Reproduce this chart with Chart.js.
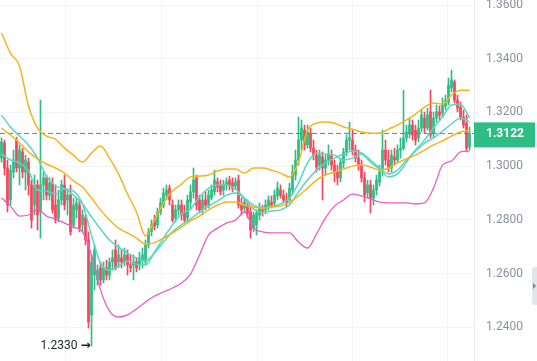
<!DOCTYPE html>
<html lang="en">
<head>
<meta charset="UTF-8">
<title>Price chart</title>
<script src="https://cdn.jsdelivr.net/npm/chart.js"></script>
<style>
  html, body { margin: 0; padding: 0; background: #fff; }
  #wrap { position: relative; width: 537px; height: 361px; }
  #tab { position: absolute; right: 0; top: 267px; width: 5px; height: 38px; background: #e2e5ea; border-radius: 3px 0 0 3px; }
  #tab:after { content: ''; position: absolute; left: 1px; top: 16px; border-left: 3px solid #7b8290; border-top: 3px solid transparent; border-bottom: 3px solid transparent; }
</style>
</head>
<body>
<div id="wrap">
  <canvas id="priceChart"></canvas>
  <div id="tab"></div>
</div>
<script>
// candles (one per bar, oldest first)
const opens = [
  1.3030,1.3086,1.2993,1.2874,1.2978,1.3097,1.2993,1.3053,1.2978,1.3015,
  1.2930,1.2855,1.2930,1.2829,1.2930,1.2956,1.2892,1.2937,1.2855,1.2807,
  1.2874,1.2930,1.2874,1.2892,1.2781,1.2837,1.2855,1.2781,1.2807,1.2725,
  1.2446,1.2594,1.2576,1.2621,1.2576,1.2621,1.2594,1.2643,1.2688,1.2643,
  1.2658,1.2643,1.2669,1.2632,1.2632,1.2643,1.2632,1.2650,1.2643,1.2706,
  1.2755,1.2799,1.2781,1.2829,1.2855,1.2892,1.2918,1.2855,1.2807,1.2837,
  1.2855,1.2829,1.2807,1.2866,1.2904,1.2956,1.2874,1.2837,1.2874,1.2855,
  1.2881,1.2904,1.2941,1.2930,1.2911,1.2930,1.2948,1.2937,1.2926,1.2948,
  1.2855,1.2844,1.2855,1.2829,1.2769,1.2781,1.2818,1.2837,1.2837,1.2851,
  1.2866,1.2863,1.2889,1.2911,1.2892,1.2874,1.2874,1.2911,1.2967,1.3023,
  1.3097,1.3134,1.3079,1.3123,1.3067,1.3041,1.3004,1.3034,1.2993,1.3023,
  1.3038,1.3004,1.2978,1.2956,1.3012,1.3053,1.3097,1.3097,1.3060,1.3030,
  1.3004,1.2956,1.2900,1.2930,1.2881,1.2911,1.2941,1.2978,1.3060,1.3023,
  1.2993,1.3034,1.3023,1.3060,1.3067,1.3105,1.3123,1.3153,1.3134,1.3105,
  1.3142,1.3179,1.3142,1.3202,1.3123,1.3179,1.3202,1.3198,1.3224,1.3239,
  1.3291,1.3313,1.3246,1.3220,1.3183,1.3160,1.3071
];
const highs = [
  1.3105,1.3097,1.3023,1.3004,1.3060,1.3108,1.3079,1.3067,1.3041,1.3030,
  1.2948,1.2967,1.2948,1.3246,1.2978,1.2967,1.2956,1.2956,1.2930,1.2911,
  1.2948,1.2967,1.2911,1.2930,1.2881,1.2881,1.2874,1.2837,1.2818,1.2755,
  1.2669,1.2706,1.2632,1.2643,1.2643,1.2650,1.2658,1.2688,1.2725,1.2706,
  1.2688,1.2695,1.2688,1.2669,1.2669,1.2658,1.2680,1.2695,1.2725,1.2769,
  1.2799,1.2818,1.2844,1.2881,1.2918,1.2930,1.2930,1.2874,1.2855,1.2874,
  1.2874,1.2855,1.2892,1.2930,1.2993,1.2967,1.2892,1.2892,1.2904,1.2911,
  1.2930,1.2985,1.2956,1.2948,1.2948,1.2956,1.2963,1.2956,1.2956,1.2967,
  1.2881,1.2881,1.2874,1.2855,1.2829,1.2837,1.2863,1.2855,1.2874,1.2889,
  1.2889,1.2911,1.2941,1.2930,1.2911,1.2900,1.2937,1.3004,1.3060,1.3183,
  1.3172,1.3153,1.3153,1.3142,1.3097,1.3060,1.3060,1.3053,1.3041,1.3079,
  1.3060,1.3023,1.3004,1.3030,1.3067,1.3116,1.3164,1.3134,1.3079,1.3060,
  1.3023,1.2978,1.2948,1.2948,1.2930,1.2967,1.3004,1.3134,1.3097,1.3060,
  1.3060,1.3067,1.3079,1.3105,1.3283,1.3153,1.3179,1.3172,1.3153,1.3172,
  1.3209,1.3202,1.3216,1.3283,1.3202,1.3228,1.3224,1.3254,1.3265,1.3328,
  1.3358,1.3321,1.3265,1.3239,1.3209,1.3190,1.3146
];
const lows = [
  1.3015,1.2967,1.2829,1.2855,1.2956,1.2978,1.2930,1.2956,1.2911,1.2892,
  1.2769,1.2818,1.2762,1.2732,1.2874,1.2874,1.2874,1.2825,1.2788,1.2792,
  1.2855,1.2837,1.2818,1.2743,1.2769,1.2807,1.2755,1.2755,1.2706,1.2397,
  1.2330,1.2539,1.2557,1.2557,1.2565,1.2576,1.2576,1.2613,1.2613,1.2621,
  1.2621,1.2628,1.2594,1.2606,1.2576,1.2606,1.2613,1.2621,1.2632,1.2695,
  1.2740,1.2762,1.2769,1.2818,1.2844,1.2874,1.2855,1.2792,1.2792,1.2818,
  1.2799,1.2792,1.2792,1.2837,1.2881,1.2837,1.2825,1.2818,1.2837,1.2844,
  1.2874,1.2892,1.2904,1.2892,1.2892,1.2911,1.2911,1.2904,1.2911,1.2844,
  1.2818,1.2829,1.2807,1.2732,1.2755,1.2743,1.2799,1.2814,1.2822,1.2837,
  1.2844,1.2848,1.2874,1.2881,1.2863,1.2848,1.2863,1.2900,1.2948,1.3004,
  1.3060,1.3060,1.3067,1.3053,1.3023,1.2978,1.2985,1.2874,1.2967,1.3004,
  1.2985,1.2941,1.2930,1.2941,1.2993,1.3038,1.3060,1.3041,1.3015,1.2985,
  1.2941,1.2866,1.2881,1.2825,1.2855,1.2892,1.2926,1.2963,1.3004,1.2978,
  1.2978,1.3004,1.3012,1.3030,1.3060,1.3090,1.3105,1.3097,1.3079,1.3090,
  1.3127,1.3123,1.3134,1.3105,1.3108,1.3164,1.3172,1.3183,1.3209,1.3228,
  1.3276,1.3235,1.3202,1.3172,1.3142,1.3053,1.3060
];
const closes = [
  1.3090,1.2993,1.2855,1.2985,1.3023,1.2993,1.3060,1.2978,1.3023,1.2930,
  1.2799,1.2930,1.2818,1.2930,1.2956,1.2892,1.2937,1.2837,1.2799,1.2874,
  1.2930,1.2855,1.2892,1.2755,1.2855,1.2863,1.2769,1.2818,1.2725,1.2419,
  1.2643,1.2688,1.2613,1.2576,1.2621,1.2594,1.2643,1.2658,1.2621,1.2669,
  1.2643,1.2669,1.2632,1.2621,1.2643,1.2621,1.2658,1.2669,1.2706,1.2755,
  1.2781,1.2777,1.2829,1.2863,1.2900,1.2911,1.2874,1.2799,1.2837,1.2855,
  1.2818,1.2799,1.2874,1.2904,1.2948,1.2855,1.2837,1.2874,1.2855,1.2892,
  1.2911,1.2948,1.2922,1.2904,1.2930,1.2941,1.2926,1.2918,1.2941,1.2855,
  1.2837,1.2866,1.2825,1.2762,1.2818,1.2825,1.2844,1.2829,1.2855,1.2874,
  1.2855,1.2892,1.2918,1.2892,1.2874,1.2866,1.2918,1.2978,1.3023,1.3097,
  1.3142,1.3079,1.3127,1.3067,1.3041,1.2997,1.3041,1.2993,1.3023,1.3041,
  1.3004,1.2978,1.2956,1.3015,1.3053,1.3097,1.3105,1.3060,1.3030,1.3004,
  1.2956,1.2892,1.2930,1.2881,1.2911,1.2948,1.2978,1.3060,1.3023,1.2993,
  1.3041,1.3023,1.3060,1.3067,1.3105,1.3127,1.3153,1.3116,1.3097,1.3142,
  1.3190,1.3142,1.3190,1.3116,1.3179,1.3202,1.3190,1.3228,1.3246,1.3302,
  1.3321,1.3246,1.3216,1.3183,1.3153,1.3067,1.3122
];

// indicator lines, sampled every third bar
const lineIdx = Array.from({ length: 53 }, (_, k) => k * 3);
const bandUpper = [
  1.3496,1.3421,1.3373,1.3224,1.3142,1.3112,1.3101,1.3067,1.3041,1.3015,
  1.3049,1.3075,1.3030,1.2971,1.2896,1.2829,1.2740,1.2799,1.2863,1.2907,
  1.2933,1.2960,1.2963,1.2967,1.2982,1.2989,1.2989,1.2974,1.2993,1.2993,
  1.2985,1.2974,1.2960,1.3015,1.3134,1.3160,1.3164,1.3160,1.3146,1.3138,
  1.3127,1.3123,1.3123,1.3138,1.3153,1.3172,1.3194,1.3220,1.3235,1.3231,
  1.3265,1.3283,1.3283
];
const bandMid = [
  1.3142,1.3116,1.3086,1.3053,1.3027,1.3008,1.2993,1.2974,1.2945,1.2922,
  1.2881,1.2837,1.2799,1.2769,1.2751,1.2732,1.2710,1.2714,1.2732,1.2751,
  1.2773,1.2796,1.2814,1.2837,1.2855,1.2866,1.2866,1.2855,1.2848,1.2844,
  1.2848,1.2851,1.2866,1.2889,1.2918,1.2948,1.2967,1.2978,1.2989,1.3000,
  1.3004,1.2997,1.2985,1.2993,1.3012,1.3027,1.3041,1.3060,1.3079,1.3094,
  1.3112,1.3127,1.3134
];
const bandLower = [
  1.2881,1.2851,1.2814,1.2818,1.2840,1.2814,1.2803,1.2788,1.2773,1.2755,
  1.2669,1.2539,1.2460,1.2438,1.2446,1.2468,1.2494,1.2516,1.2531,1.2546,
  1.2565,1.2598,1.2669,1.2743,1.2769,1.2788,1.2799,1.2829,1.2769,1.2755,
  1.2751,1.2751,1.2751,1.2717,1.2695,1.2747,1.2807,1.2851,1.2874,1.2896,
  1.2889,1.2878,1.2866,1.2863,1.2863,1.2863,1.2859,1.2863,1.2918,1.3004,
  1.3019,1.3053,1.3056
];
const maFast = [
  1.3045,1.3023,1.3012,1.2982,1.2911,1.2907,1.2896,1.2915,1.2907,1.2859,
  1.2743,1.2639,1.2613,1.2628,1.2647,1.2635,1.2632,1.2680,1.2732,1.2781,
  1.2822,1.2840,1.2885,1.2918,1.2930,1.2930,1.2915,1.2881,1.2855,1.2844,
  1.2848,1.2859,1.2881,1.2937,1.3012,1.3049,1.3045,1.3041,1.3023,1.3030,
  1.3045,1.3015,1.2989,1.2960,1.2971,1.3015,1.3060,1.3097,1.3142,1.3183,
  1.3228,1.3231,1.3179
];
const maSlow = [
  1.3190,1.3146,1.3112,1.3079,1.3030,1.2963,1.2926,1.2915,1.2892,1.2859,
  1.2811,1.2766,1.2725,1.2699,1.2676,1.2658,1.2647,1.2676,1.2717,1.2755,
  1.2781,1.2803,1.2829,1.2851,1.2870,1.2892,1.2900,1.2878,1.2840,1.2829,
  1.2833,1.2837,1.2855,1.2904,1.2948,1.2985,1.3012,1.3030,1.3045,1.3056,
  1.3049,1.3023,1.2993,1.2971,1.2985,1.3023,1.3056,1.3086,1.3105,1.3131,
  1.3157,1.3179,1.3164
];

const yTicks = [1.24, 1.26, 1.28, 1.30, 1.32, 1.34, 1.36];
const timeGrid = [21.2, 53.2, 85.2, 116.9, 148.8];
const lastPrice = 1.3122;
const lowMark = 1.2330;

const GREEN = '#2ebd85';
const RED = '#f6465d';

const candleColor = ctx => closes[ctx.dataIndex] >= opens[ctx.dataIndex] ? GREEN : RED;
const asPoints = arr => arr.map((v, k) => ({ x: lineIdx[k], y: v }));

function lineSet(data, color, width) {
    return {
        type: 'line',
        data: asPoints(data),
        borderColor: color,
        borderWidth: width,
        pointRadius: 0,
        cubicInterpolationMode: 'monotone',
        order: 0
    };
}

// last price tag + lowest price marker
const priceTags = {
    id: 'priceTags',
    afterDraw(chart) {
        const { ctx, chartArea, scales } = chart;
        const py = scales.y.getPixelForValue(lastPrice);
        ctx.save();
        ctx.fillStyle = GREEN;
        ctx.fillRect(chartArea.right, py - 11, 61, 25);
        ctx.fillStyle = '#ffffff';
        ctx.font = 'bold 12px Roboto';
        ctx.textBaseline = 'middle';
        ctx.textAlign = 'left';
        ctx.fillText(lastPrice.toFixed(4), chartArea.right + 12, py + 1);

        const li = lows.indexOf(Math.min(...lows));
        const lx = scales.x.getPixelForValue(li);
        const ly = scales.y.getPixelForValue(lows[li]);
        ctx.fillStyle = '#1e2329';
        ctx.font = '12px Roboto';
        ctx.textAlign = 'right';
        ctx.fillText(lowMark.toFixed(4), lx - 14, ly);
        ctx.font = 'bold 12px "DejaVu Sans"';
        ctx.fillText('\u2192', lx - 1, ly);
        ctx.restore();
    }
};

new Chart(document.getElementById('priceChart'), {
    data: {
        datasets: [
            lineSet(bandUpper, '#f7b41c', 1.5),
            lineSet(bandMid, '#f7b41c', 1.5),
            lineSet(bandLower, '#ec5dc6', 1.3),
            lineSet(maSlow, '#55d8c4', 1.5),
            lineSet(maFast, '#55d8c4', 1.5),
            {
                type: 'line',
                data: [{ x: -0.5, y: lastPrice }, { x: 157.5, y: lastPrice }],
                borderColor: '#26a17b',
                borderWidth: 1,
                borderDash: [5, 3],
                pointRadius: 0,
                order: 0
            },
            {
                type: 'bar',
                data: closes.map((c, i) => ({ x: i, y: [opens[i], c] })),
                backgroundColor: candleColor,
                barThickness: 2,
                minBarLength: 1,
                grouped: false,
                order: 1
            },
            {
                type: 'bar',
                data: highs.map((h, i) => ({ x: i, y: [lows[i], h] })),
                backgroundColor: candleColor,
                barThickness: 1,
                grouped: false,
                order: 2
            }
        ]
    },
    options: {
        responsive: true,
        maintainAspectRatio: false,
        animation: false,
        plugins: { legend: { display: false }, tooltip: { enabled: false } },
        layout: { padding: 0 },
        scales: {
            x: {
                type: 'linear',
                offset: false,
                min: -0.5,
                max: 157.5,
                afterBuildTicks: axis => { axis.ticks = timeGrid.map(v => ({ value: v })); },
                ticks: { display: false },
                grid: { color: '#f3f4f6', drawTicks: false, offset: false },
                border: { display: false }
            },
            y: {
                position: 'right',
                min: 1.2274,
                max: 1.3619,
                afterBuildTicks: axis => { axis.ticks = yTicks.map(v => ({ value: v })); },
                afterFit: axis => { axis.width = 63; axis.paddingTop = 0; axis.paddingBottom = 0; },
                grid: { color: '#f3f4f6', drawTicks: false },
                border: { display: true, color: '#e8eaed' },
                ticks: {
                    padding: 12,
                    color: '#8a919e',
                    font: { family: 'Roboto', size: 12 },
                    callback: v => v.toFixed(4)
                }
            }
        }
    },
    plugins: [priceTags]
});
</script>
</body>
</html>
